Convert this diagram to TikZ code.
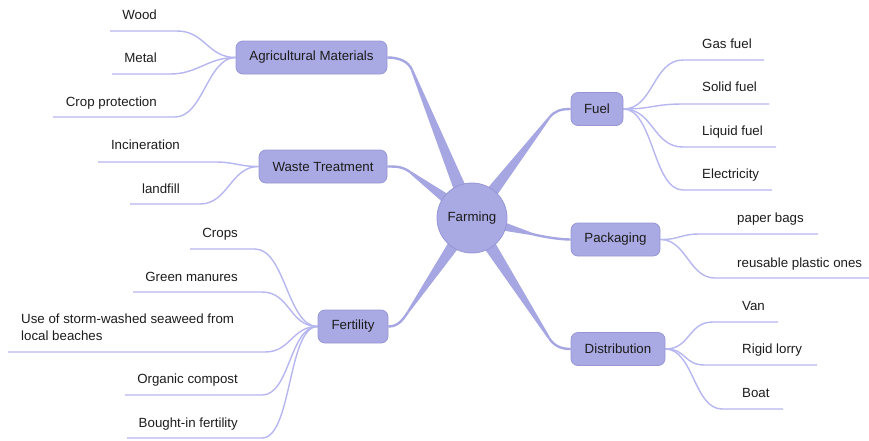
\documentclass[tikz,border=0pt]{standalone}
\usepackage{fontspec}
\setmainfont{Liberation Sans}
\usetikzlibrary{calc,backgrounds}
\definecolor{nfill}{RGB}{169,169,227}
\definecolor{nborder}{RGB}{150,150,214}
\definecolor{brc}{RGB}{166,166,226}
\definecolor{leafc}{RGB}{182,182,240}
\definecolor{txt}{RGB}{28,28,28}
\newcommand\mybranch[3]{%
  \fill[brc] ($(farm.center)!7.5pt!90:(#1)$) -- ($(#1)!1.2pt!-90:(farm.center)$) -- ($(#1)!1.2pt!90:(farm.center)$) -- ($(farm.center)!7.5pt!-90:(#1)$) -- cycle;
  \draw[brc, line width=2.4pt] (#1) .. controls ($(#1)!-9pt!(farm.center)$) and ($(#2)+(#3,0)$) .. (#2);
}
\newcommand\leafline[5]{%
  \draw[leaf] (#2,#4) -- (#3,#4) .. controls +(#5,0) and ($(#1)-(#5,0)$) .. (#1);
}
\begin{document}
\begin{tikzpicture}[x=1pt,y=-1pt,
  every node/.style={font=\fontsize{13.3}{17.5}\selectfont, text=txt},
  mainnode/.style={rectangle, rounded corners=7pt, fill=nfill, draw=nborder, line width=0.8pt, minimum height=33pt, inner xsep=2pt},
  hub/.style={circle, fill=nfill, draw=nborder, line width=0.8pt, minimum size=70pt, inner sep=0pt},
  leaflabel/.style={inner sep=0pt},
  leaf/.style={draw=leafc, line width=1.4pt}]
\useasboundingbox (0,0) rectangle (869,440);

% main nodes
\node[hub] (farm) at (472,218) {Farming};
\node[mainnode, minimum width=151pt] (agri) at (311.5,57.5) {Agricultural Materials};
\node[mainnode, minimum width=128pt] (waste) at (323,166.5) {Waste Treatment};
\node[mainnode, minimum width=70pt] (fert) at (353,326.5) {Fertility};
\node[mainnode, minimum width=52pt] (fuel) at (597,109) {Fuel};
\node[mainnode, minimum width=89pt] (pack) at (615.5,239.5) {Packaging};
\node[mainnode, minimum width=94pt] (dist) at (618,349) {Distribution};

% bend points of the thick branches
\coordinate (qagri) at (412,70);
\coordinate (qwaste) at (410,172);
\coordinate (qfert) at (408,312);
\coordinate (qfuel) at (549,118);
\coordinate (qpack) at (532,234);
\coordinate (qdist) at (549,338);

\begin{pgfonlayer}{background}
\mybranch{qagri}{agri.east}{12}
\mybranch{qwaste}{waste.east}{10}
\mybranch{qfert}{fert.east}{10}
\mybranch{qfuel}{fuel.west}{-10}
\mybranch{qpack}{pack.west}{-12}
\mybranch{qdist}{dist.west}{-10}

% leaves of Agricultural Materials
\leafline{agri.west}{110}{177}{31}{28}
\leafline{agri.west}{112}{170}{74}{28}
\leafline{agri.west}{53}{175}{117}{28}
% leaves of Waste Treatment
\leafline{waste.west}{98}{215}{162}{20}
\leafline{waste.west}{130}{200}{204}{28}
% leaves of Fertility
\leafline{fert.west}{190}{255}{249}{30}
\leafline{fert.west}{133}{262}{292}{28}
\leafline{fert.west}{8}{265}{352}{26}
\leafline{fert.west}{125}{262}{395}{28}
\leafline{fert.west}{127}{262}{438}{30}
% leaves of Fuel
\leafline{fuel.east}{764}{683}{60}{-30}
\leafline{fuel.east}{769}{683}{104}{-30}
\leafline{fuel.east}{776}{683}{147}{-30}
\leafline{fuel.east}{772}{683}{190}{-30}
% leaves of Packaging
\leafline{pack.east}{818}{700}{234}{-20}
\leafline{pack.east}{869}{715}{278}{-26}
% leaves of Distribution
\leafline{dist.east}{778}{713}{322}{-25}
\leafline{dist.east}{817}{705}{365}{-22}
\leafline{dist.east}{783}{722}{409}{-28}
\end{pgfonlayer}

% leaf labels
\node[leaflabel, anchor=base east] (wood) at (157,19) {Wood};
\node[leaflabel, anchor=base east] (metal) at (157,62) {Metal};
\node[leaflabel, anchor=base east] (cropprot) at (157,106) {Crop protection};
\node[leaflabel, anchor=base east] (incin) at (180,149) {Incineration};
\node[leaflabel, anchor=base east] (landfill) at (180,193) {landfill};
\node[leaflabel, anchor=base east] (crops) at (238,237) {Crops};
\node[leaflabel, anchor=base east] (green) at (238,281) {Green manures};
\node[leaflabel, anchor=west, align=left] (seaweed) at (21,327) {Use of storm-washed seaweed from\\local beaches};
\node[leaflabel, anchor=base east] (compost) at (238,383) {Organic compost};
\node[leaflabel, anchor=base east] (bought) at (238,427) {Bought-in fertility};
\node[leaflabel, anchor=base west] (gas) at (702,48) {Gas fuel};
\node[leaflabel, anchor=base west] (solid) at (702,91) {Solid fuel};
\node[leaflabel, anchor=base west] (liquid) at (702,135) {Liquid fuel};
\node[leaflabel, anchor=base west] (elec) at (702,178) {Electricity};
\node[leaflabel, anchor=base west] (paper) at (737,222) {paper bags};
\node[leaflabel, anchor=base west] (reuse) at (737,267) {reusable plastic ones};
\node[leaflabel, anchor=base west] (van) at (742,310) {Van};
\node[leaflabel, anchor=base west] (lorry) at (742,353) {Rigid lorry};
\node[leaflabel, anchor=base west] (boat) at (742,397) {Boat};
\end{tikzpicture}
\end{document}
